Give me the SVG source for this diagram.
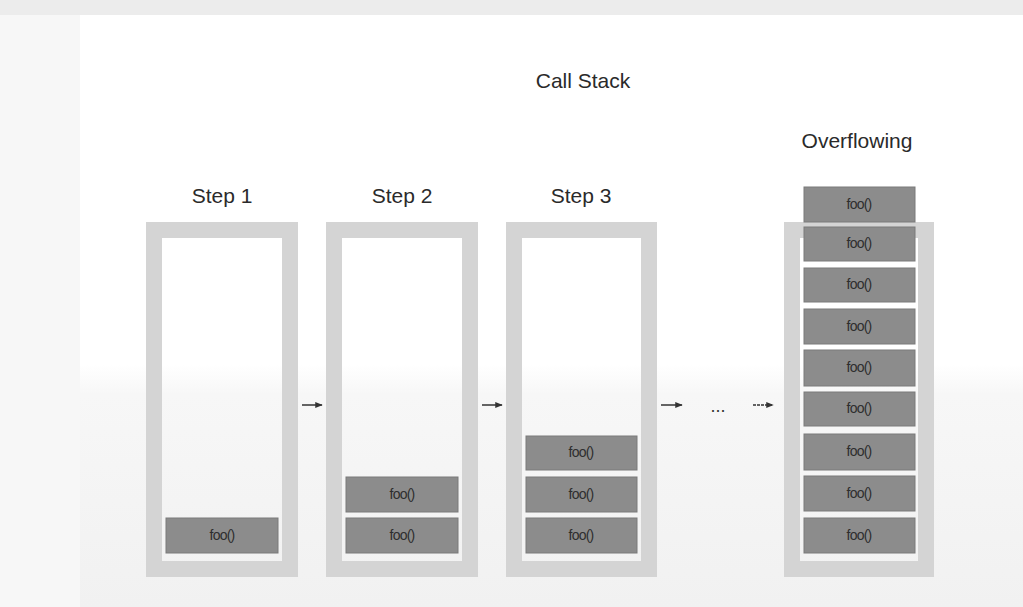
<svg xmlns="http://www.w3.org/2000/svg" width="1023" height="607" viewBox="0 0 1023 607">
<defs>
<linearGradient id="bg" x1="0" y1="0" x2="0" y2="1">
<stop offset="0" stop-color="#ffffff"/>
<stop offset="0.6" stop-color="#ffffff"/>
<stop offset="0.65" stop-color="#f7f7f7"/>
<stop offset="1" stop-color="#f1f1f1"/>
</linearGradient>
<marker id="ah" viewBox="0 0 10 10" refX="9" refY="5" markerWidth="5" markerHeight="5" orient="auto">
<path d="M0,1 L10,5 L0,9 z" fill="#333"/>
</marker>
<style>
.title{font-family:"Liberation Sans",Arial,sans-serif;font-size:21px;fill:#2a2a2a;text-anchor:middle}
.frame{fill:none;stroke:#d4d4d4;stroke-width:16}
.box{fill:#8c8c8c;stroke:#7a7a7a;stroke-width:1}
.lbl{font-family:"Liberation Sans",Arial,sans-serif;font-size:14px;fill:#2e2e2e;text-anchor:middle;letter-spacing:-0.8px}
.arr{stroke:#333;stroke-width:1.5;fill:none;marker-end:url(#ah)}
</style>
</defs>
<rect width="1023" height="607" fill="url(#bg)"/>
<rect x="0" y="0" width="1023" height="15" fill="#ececec"/>
<rect x="0" y="15" width="80" height="592" fill="#f7f7f7"/>
<text class="title" x="583" y="88">Call Stack</text>
<g id="stack1">
<text class="title" x="222" y="203">Step 1</text>
<rect class="frame" x="154" y="230" width="136" height="339"/>
<rect class="box" x="166" y="518" width="112" height="35"/>
<text class="lbl" x="222" y="540">foo()</text>
</g>
<g id="stack2">
<text class="title" x="402" y="203">Step 2</text>
<rect class="frame" x="334" y="230" width="136" height="339"/>
<rect class="box" x="346" y="477" width="112" height="35"/>
<text class="lbl" x="402" y="499">foo()</text>
<rect class="box" x="346" y="518" width="112" height="35"/>
<text class="lbl" x="402" y="540">foo()</text>
</g>
<g id="stack3">
<text class="title" x="581" y="203">Step 3</text>
<rect class="frame" x="514" y="230" width="135" height="339"/>
<rect class="box" x="526" y="436" width="111" height="34"/>
<text class="lbl" x="581" y="457">foo()</text>
<rect class="box" x="526" y="477" width="111" height="35"/>
<text class="lbl" x="581" y="499">foo()</text>
<rect class="box" x="526" y="518" width="111" height="35"/>
<text class="lbl" x="581" y="540">foo()</text>
</g>
<g id="overflow">
<text class="title" x="857" y="148">Overflowing</text>
<rect class="frame" x="792" y="230" width="134" height="339"/>
<rect class="box" x="804" y="187" width="111" height="35"/>
<text class="lbl" x="859" y="209">foo()</text>
<rect class="box" x="804" y="227" width="111" height="34"/>
<text class="lbl" x="859" y="248">foo()</text>
<rect class="box" x="804" y="268" width="111" height="34"/>
<text class="lbl" x="859" y="289">foo()</text>
<rect class="box" x="804" y="309" width="111" height="35"/>
<text class="lbl" x="859" y="331">foo()</text>
<rect class="box" x="804" y="350" width="111" height="36"/>
<text class="lbl" x="859" y="372">foo()</text>
<rect class="box" x="804" y="392" width="111" height="34"/>
<text class="lbl" x="859" y="413">foo()</text>
<rect class="box" x="804" y="434" width="111" height="36"/>
<text class="lbl" x="859" y="456">foo()</text>
<rect class="box" x="804" y="476" width="111" height="35"/>
<text class="lbl" x="859" y="498">foo()</text>
<rect class="box" x="804" y="518" width="111" height="35"/>
<text class="lbl" x="859" y="540">foo()</text>
</g>
<g id="connectors">
<line class="arr" x1="302" y1="405" x2="322" y2="405"/>
<line class="arr" x1="482" y1="405" x2="502" y2="405"/>
<line class="arr" x1="661" y1="405" x2="682" y2="405"/>
<line class="arr" x1="753" y1="405" x2="773" y2="405" stroke-dasharray="3,1"/>
<text x="718" y="412" font-family="Liberation Sans,Arial,sans-serif" font-size="18" fill="#333" text-anchor="middle">...</text>
</g>
</svg>
